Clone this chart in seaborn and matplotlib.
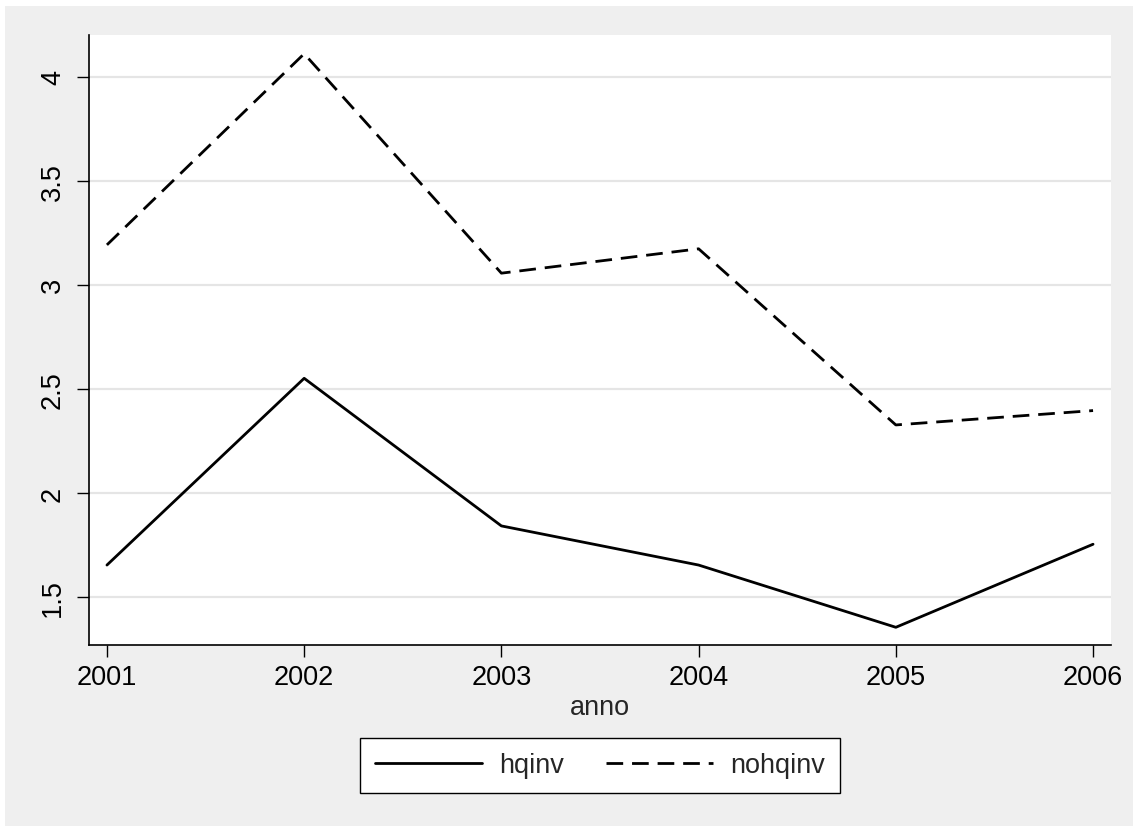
import pandas as pd
import numpy as np
import matplotlib
matplotlib.use('Agg')
import matplotlib.pyplot as plt
from matplotlib.lines import Line2D
import seaborn as sns

sns.set_style('white')
plt.rcParams['font.family'] = ['Liberation Sans', 'DejaVu Sans']

# values
anno = [2001, 2002, 2003, 2004, 2005, 2006]
hqinv = [1.654, 2.551, 1.842, 1.654, 1.355, 1.754]
nohqinv = [3.192, 4.11, 3.056, 3.173, 2.327, 2.396]
yticks = [1.5, 2, 2.5, 3, 3.5, 4]

df = pd.DataFrame({'anno': anno * 2,
                   'val': hqinv + nohqinv,
                   'serie': ['hqinv'] * len(anno) + ['nohqinv'] * len(anno)})

FS = 19.5
LW = 2.0
DASH = (6.0, 3.2)

fig = plt.figure(figsize=(11.33, 8.28), dpi=100, facecolor='white')
# grey stata-like background
fig.patches.append(plt.Rectangle((5 / 1133, 1 / 828), 1 - 5 / 1133, 1 - 8 / 828,
                                 transform=fig.transFigure, facecolor='#efefef',
                                 edgecolor='none', zorder=-10))
ax = fig.add_axes([89 / 1133, 1 - 646 / 828, (1111 - 89) / 1133, (646 - 36) / 828])
ax.set_facecolor('white')

sns.lineplot(data=df, x='anno', y='val', style='serie', color='black',
             dashes={'hqinv': '', 'nohqinv': DASH}, linewidth=LW,
             ax=ax, legend=False)

ax.set_xlim(2001 - 0.091, 2006 + 0.091)
ax.set_ylim(1.27, 4.2)
ax.set_xticks(anno)
ax.set_yticks(yticks)
ax.set_yticklabels(['1.5', '2', '2.5', '3', '3.5', '4'], rotation=90, va='center')
ax.grid(axis='y', color='#e5e5e5', linewidth=1.6)
ax.set_axisbelow(True)
for s in ['top', 'right']:
    ax.spines[s].set_visible(False)
for s in ['left', 'bottom']:
    ax.spines[s].set_color('black')
    ax.spines[s].set_linewidth(1.2)
ax.tick_params(axis='both', direction='out', length=8.5, width=1, color='black',
               labelsize=FS, labelcolor='black', bottom=True, left=True)
ax.tick_params(axis='y', pad=8)
ax.tick_params(axis='x', pad=5)
ax.set_xlabel('anno', fontsize=FS, labelpad=3)
ax.set_ylabel('')

handles = [Line2D([], [], color='black', lw=LW),
           Line2D([], [], color='black', lw=LW, dashes=DASH)]
leg = fig.legend(handles, ['hqinv', 'nohqinv'], loc='center',
                 bbox_to_anchor=(600 / 1133, 1 - 766.5 / 828), ncol=2,
                 fontsize=FS, frameon=True, fancybox=False, handlelength=3.95,
                 columnspacing=1.55, handletextpad=0.65, borderpad=0.55,
                 borderaxespad=0, framealpha=1, facecolor='white')
leg.get_frame().set_edgecolor('black')
leg.get_frame().set_linewidth(1.0)

fig.savefig('out.png', dpi=100, facecolor=fig.get_facecolor())
